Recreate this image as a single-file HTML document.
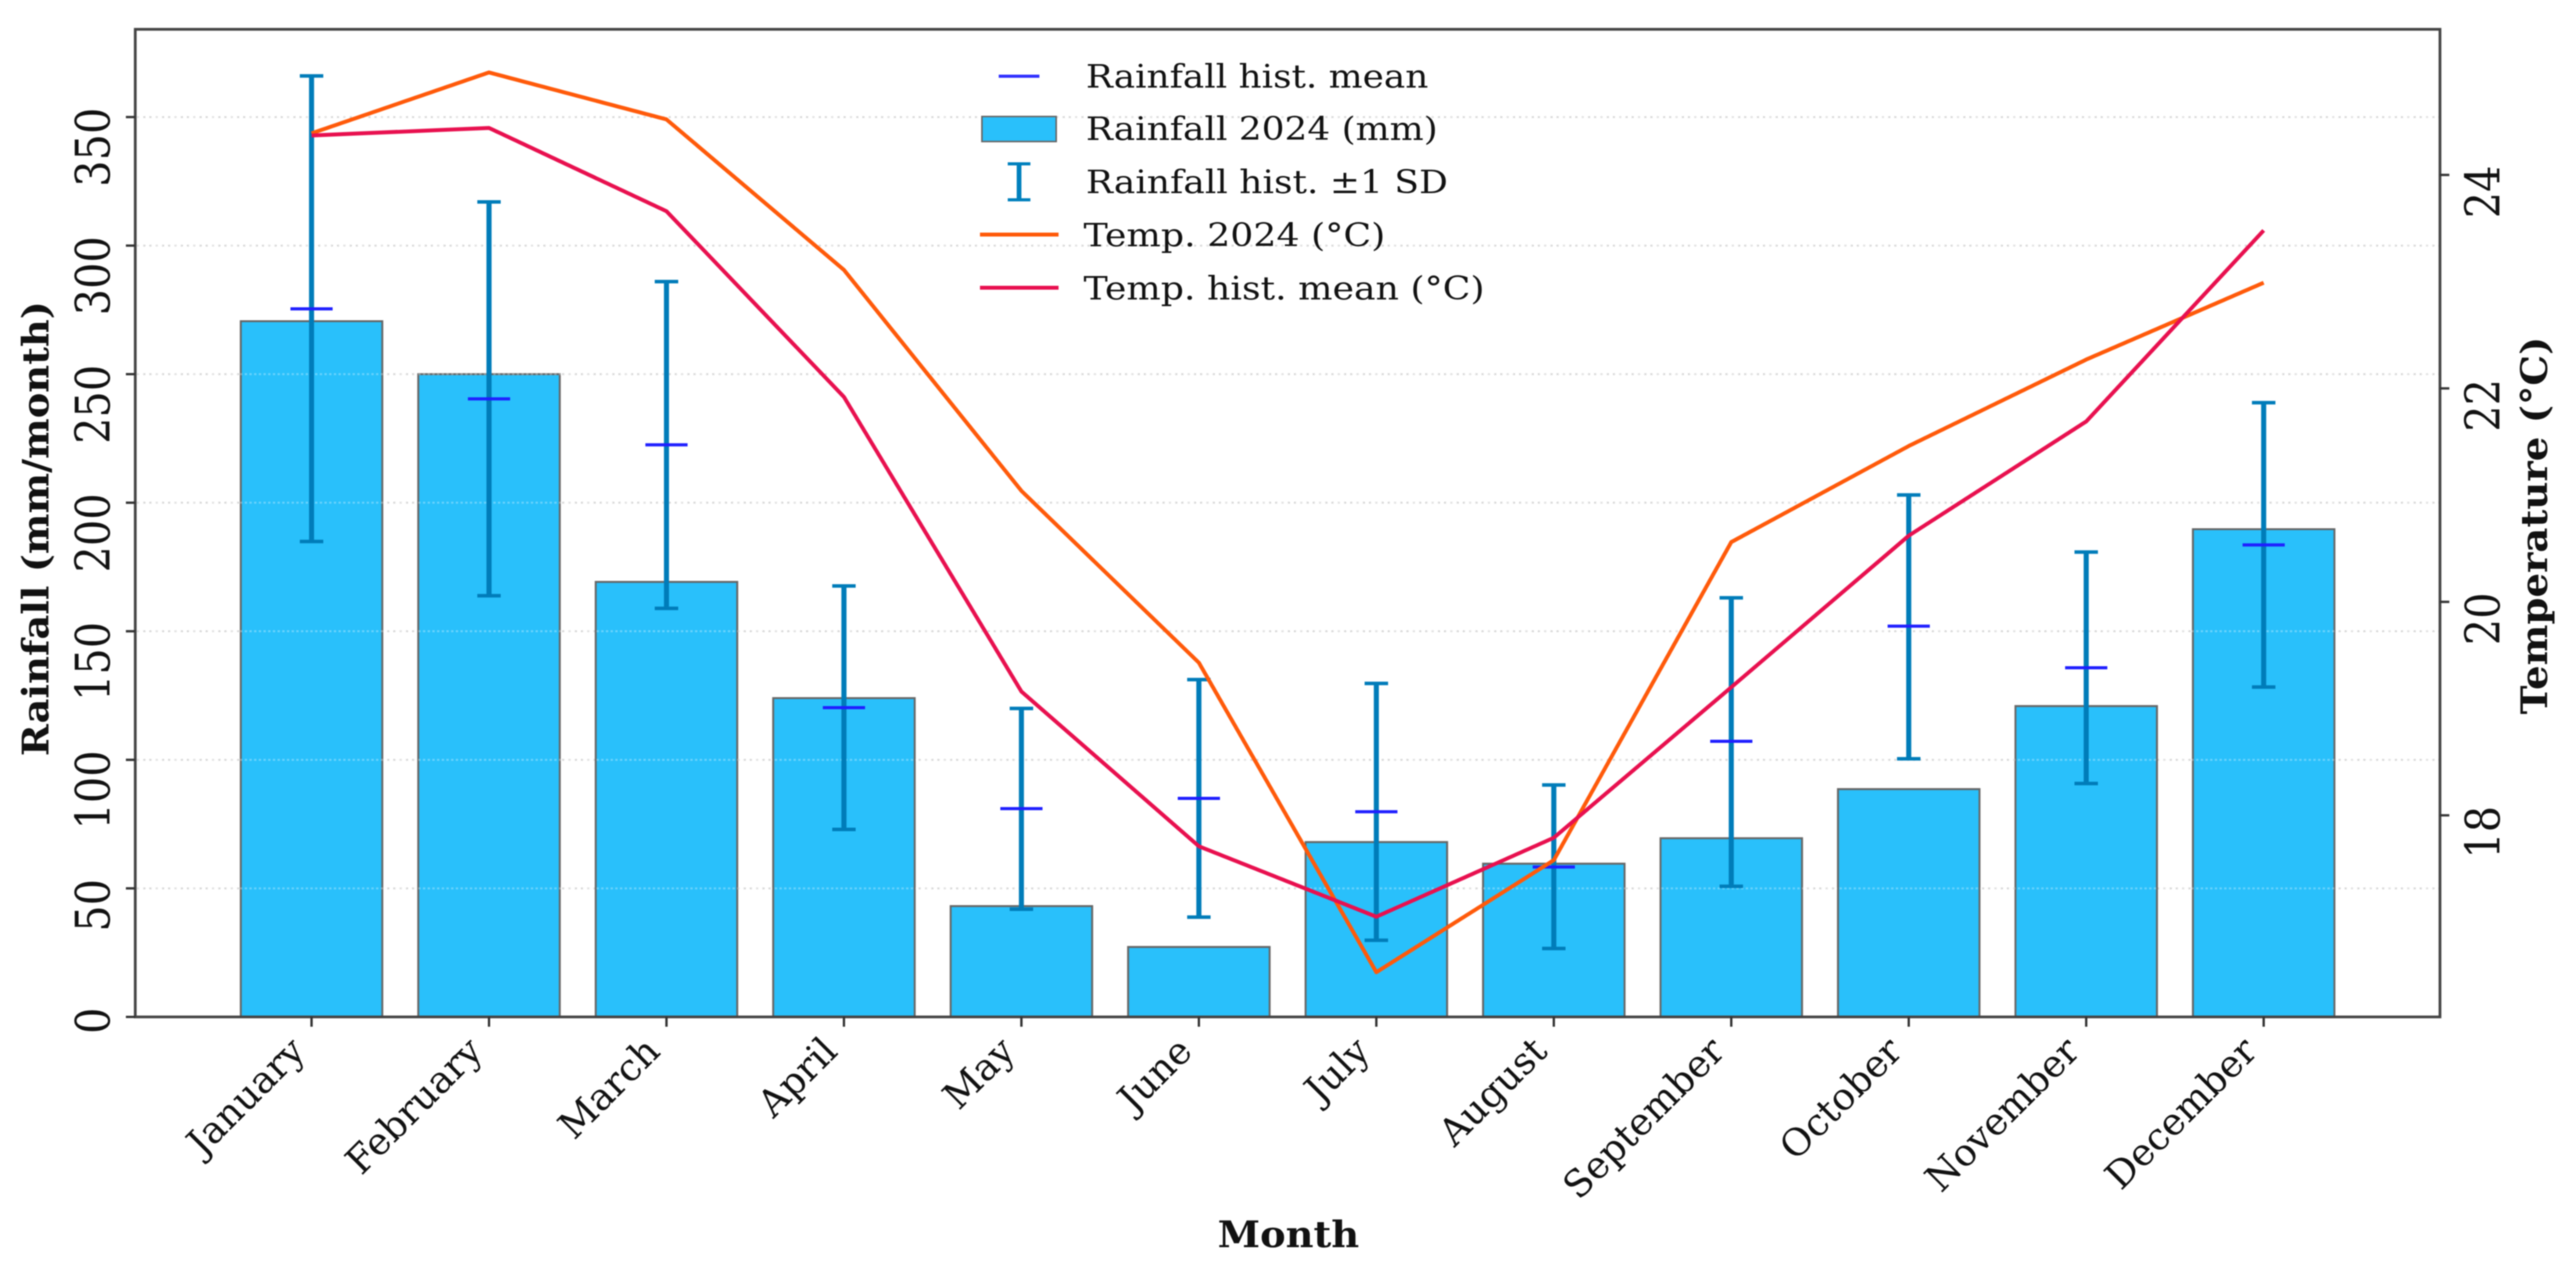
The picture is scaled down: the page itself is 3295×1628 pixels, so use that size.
<!DOCTYPE html>
<html lang="en">
<head>
<meta charset="utf-8">
<title>Monthly rainfall and temperature 2024</title>
<style>
html,body{margin:0;padding:0;background:#fff;}
svg{display:block;filter:blur(0.7px);}
text{font-family:"DejaVu Serif","Liberation Serif",serif;fill:#111;}
</style>
</head>
<body>
<svg id="chart" xmlns="http://www.w3.org/2000/svg" width="3295" height="1628" viewBox="0 0 3295 1628">
  <rect x="0" y="0" width="3295" height="1628" fill="#fff"/>
  <g id="grid"></g>
  <g id="bars"></g>
  <g id="gridOver"></g>
  <g id="errs"></g>
  <g id="means"></g>
  <g id="lines"></g>
  <rect x="173" y="37.5" width="2948" height="1263" fill="none" stroke="#444" stroke-width="3.5"/>
  <g id="xAxis"></g>
  <g id="yAxis"></g>
  <g id="y2Axis"></g>

  <text x="1648" y="1595" text-anchor="middle" font-size="47" font-weight="bold" textLength="181" lengthAdjust="spacingAndGlyphs">Month</text>
  <text transform="translate(62,676) rotate(-90)" text-anchor="middle" font-size="47" font-weight="bold" textLength="582" lengthAdjust="spacingAndGlyphs">Rainfall (mm/month)</text>
  <text transform="translate(3258,672) rotate(-90)" text-anchor="middle" font-size="47" font-weight="bold" textLength="483" lengthAdjust="spacingAndGlyphs">Temperature (°C)</text>

  <g>
    <g>
      <line x1="1277.5" x2="1329.5" y1="97.5" y2="97.5" stroke="#3030ff" stroke-width="4"/>
      <text x="1389" y="112" font-size="41" textLength="438" lengthAdjust="spacingAndGlyphs">Rainfall hist. mean</text>
    </g>
    <g>
      <rect x="1256" y="149" width="95" height="32" fill="#29c0fb" stroke="#666" stroke-width="2"/>
      <text x="1389" y="179" font-size="41" textLength="450" lengthAdjust="spacingAndGlyphs">Rainfall 2024 (mm)</text>
    </g>
    <g>
      <g stroke="#0080bd">
        <line x1="1303.5" x2="1303.5" y1="208" y2="257" stroke-width="6"/>
        <line x1="1289" x2="1318" y1="209.5" y2="209.5" stroke-width="4"/>
        <line x1="1289" x2="1318" y1="255.5" y2="255.5" stroke-width="4"/>
      </g>
      <text x="1389" y="247" font-size="41" textLength="463" lengthAdjust="spacingAndGlyphs">Rainfall hist. ±1 SD</text>
    </g>
    <g>
      <line x1="1253.5" x2="1354" y1="300" y2="300" stroke="#ff5a0a" stroke-width="5"/>
      <text x="1386" y="315" font-size="41" textLength="386" lengthAdjust="spacingAndGlyphs">Temp. 2024 (°C)</text>
    </g>
    <g>
      <line x1="1253.5" x2="1354" y1="368" y2="368" stroke="#e8104f" stroke-width="5"/>
      <text x="1386" y="383" font-size="41" textLength="513" lengthAdjust="spacingAndGlyphs">Temp. hist. mean (°C)</text>
    </g>
  </g>
</svg>
<script>
const months = ["January","February","March","April","May","June","July","August","September","October","November","December"];
const rainfall2024 = [270.6,250,169.2,124,43.1,27.2,68,59.6,69.5,88.6,120.9,189.7];
const rainfallMean = [275.4,240.4,222.5,120.3,81,85,79.8,58.3,107.2,152,135.8,183.6];
const rainfallHigh = [366,317,286,167.6,120,131.2,129.7,90.2,163,203,180.8,238.9];
const rainfallLow = [184.9,163.8,158.9,72.9,41.9,38.8,29.8,26.6,50.8,100.4,90.8,128.3];
const temp2024 = [24.39,24.96,24.52,23.11,21.04,19.43,16.53,17.58,20.56,21.46,22.27,22.99];
const tempHist = [24.37,24.44,23.66,21.92,19.16,17.71,17.05,17.79,19.2,20.62,21.69,23.48];
const rainTicks = [0,50,100,150,200,250,300,350];
const tempTicks = [18,20,22,24];

const NS = "http://www.w3.org/2000/svg";
function xPos(i){ return 398.5 + 227 * i; }
function yRain(v){ return 1300.5 - 3.288 * v; }
function yTemp(t){ return 1042.7 - 136.5 * (t - 18); }
function mk(parent, tag, attrs, txt){
  const el = document.createElementNS(NS, tag);
  for (const k in attrs) el.setAttribute(k, attrs[k]);
  if (txt !== undefined) el.textContent = txt;
  parent.appendChild(el);
  return el;
}
const gGrid = document.getElementById("grid");
const gGridOver = document.getElementById("gridOver");
const gBars = document.getElementById("bars");
const gErrs = document.getElementById("errs");
const gMeans = document.getElementById("means");
const gLines = document.getElementById("lines");
const gX = document.getElementById("xAxis");
const gY = document.getElementById("yAxis");
const gY2 = document.getElementById("y2Axis");

rainTicks.forEach(function(v){
  const y = yRain(v);
  if (v > 0) {
    const g1 = mk(gGrid, "line", {x1:175,x2:3120,y1:y,y2:y,stroke:"#d8d8d8","stroke-width":2.5,"stroke-dasharray":"3 5"});
    
    
    const g2 = mk(gGridOver, "line", {x1:175,x2:3120,y1:y,y2:y,stroke:"#ffffff","stroke-opacity":0.3,"stroke-width":2.5,"stroke-dasharray":"3 3"});
    
    
  }
  const t = mk(gY, "line", {x1:161,x2:173,y1:y,y2:y,stroke:"#333","stroke-width":3});
  
  
  const lb = mk(gY, "text", {transform:"translate(140,"+(y-12)+") rotate(-90) scale(1,1.15)","text-anchor":"end","font-size":53}, String(v));
  
  
});

tempTicks.forEach(function(v){
  const y = yTemp(v);
  const t = mk(gY2, "line", {x1:3121,x2:3133,y1:y,y2:y,stroke:"#333","stroke-width":3});
  
  
  const lb = mk(gY2, "text", {transform:"translate(3197,"+(y-12)+") rotate(-90) scale(1,1.15)","text-anchor":"end","font-size":53}, String(v));
  
  
});

months.forEach(function(m, i){
  const x = xPos(i);
  const b = mk(gBars, "rect", {x:x-90.5,y:yRain(rainfall2024[i]),width:181,height:yRain(0)-yRain(rainfall2024[i]),fill:"#29c0fb",stroke:"#666","stroke-width":2.5});
  
  

  const e = mk(gErrs, "line", {x1:x,x2:x,y1:yRain(rainfallHigh[i]),y2:yRain(rainfallLow[i]),stroke:"#007cb9","stroke-width":6.5});
  
  
  const c1 = mk(gErrs, "line", {x1:x-15,x2:x+15,y1:yRain(rainfallHigh[i]),y2:yRain(rainfallHigh[i]),stroke:"#007cb9","stroke-width":4.5});
  
  
  const c2 = mk(gErrs, "line", {x1:x-15,x2:x+15,y1:yRain(rainfallLow[i]),y2:yRain(rainfallLow[i]),stroke:"#007cb9","stroke-width":4.5});
  
  

  const mn = mk(gMeans, "line", {x1:x-27,x2:x+27,y1:yRain(rainfallMean[i]),y2:yRain(rainfallMean[i]),stroke:"#1f1fff","stroke-width":4});
  
  

  const t = mk(gX, "line", {x1:x,x2:x,y1:1300,y2:1313,stroke:"#333","stroke-width":3});
  
  
  const lb = mk(gX, "text", {transform:"translate("+(x-6)+",1347) rotate(-45)","text-anchor":"end","font-size":48}, m);
  
  
});

function linePoints(arr){
  return arr.map(function(t, i){ return xPos(i) + "," + yTemp(t); }).join(" ");
}
const l1 = mk(gLines, "polyline", {points:linePoints(temp2024),fill:"none",stroke:"#ff5a0a","stroke-width":5,"stroke-linejoin":"round"});


const l2 = mk(gLines, "polyline", {points:linePoints(tempHist),fill:"none",stroke:"#e8104f","stroke-width":5,"stroke-linejoin":"round"});


</script>
</body>
</html>
